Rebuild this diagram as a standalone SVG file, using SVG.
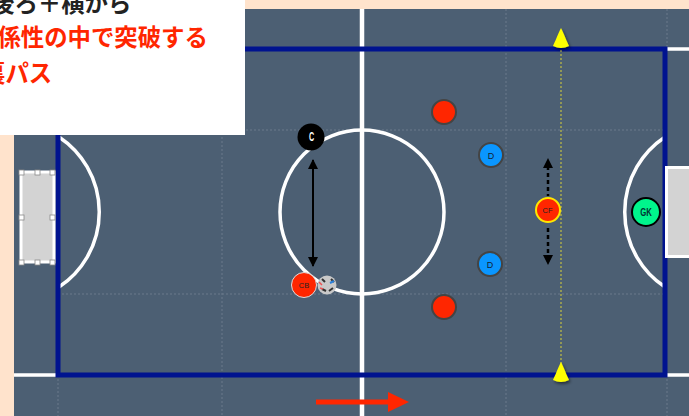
<svg xmlns="http://www.w3.org/2000/svg" width="689" height="416" viewBox="0 0 689 416">
<defs>
<style>
.wl{fill:none;stroke:#fff;stroke-width:3.500}
.grid{fill:none;stroke:#6b7b8c;stroke-width:1;stroke-dasharray:2 2}
.goal{fill:#d3d3d3;stroke:#fff;stroke-width:3}
.h{fill:#fff;stroke:#888;stroke-width:.8}
.lbl{font-family:"Liberation Sans",sans-serif;text-anchor:middle}
.jp{font-family:"Noto Sans CJK JP","Noto Sans",sans-serif;font-weight:700;font-size:23.400px}
</style>
<marker id="ah" markerWidth="12" markerHeight="12" refX="9" refY="5" orient="auto-start-reverse" markerUnits="userSpaceOnUse"><path d="M0 0L10 5L0 10Z" fill="#000"/></marker>
<filter id="sh" x="-50%" y="-50%" width="200%" height="200%"><feDropShadow dx="1.500" dy="2" stdDeviation="1.500" flood-color="#000" flood-opacity=".5"/></filter>
</defs>
<rect width="689" height="416" fill="#ffe3cc"/>
<rect x="14" y="9" width="675" height="407" fill="#4c5f73"/>
<g id="pitch">
<path class="grid" d="M58 375V416M222 9V416M506 9V416M667 9V49M667 375V416M58 130H665M58 294H665"/>
<path class="wl" d="M14 375H58M665 375H689M665 49H689"/>
<path d="M362 9V416" fill="none" stroke="#fff" stroke-width="4.500"/>
<circle class="wl" cx="362" cy="212" r="82"/>
<path class="wl" d="M59 137A90 90 0 0 1 59 287M665 137A90 90 0 0 0 665 287"/>
<rect x="58" y="49" width="607" height="326" fill="none" stroke="#00138f" stroke-width="5"/>
</g>
<g id="goal-left">
<rect class="goal" x="21" y="172" width="33" height="90"/>
<rect class="h" x="19" y="170" width="5" height="5"/><rect class="h" x="35" y="170" width="5" height="5"/><rect class="h" x="50" y="170" width="5" height="5"/>
<rect class="h" x="19" y="215" width="5" height="5"/><rect class="h" x="50" y="215" width="5" height="5"/>
<rect class="h" x="19" y="260" width="5" height="5"/><rect class="h" x="35" y="260" width="5" height="5"/><rect class="h" x="50" y="260" width="5" height="5"/>
</g>
<g id="goal-right"><rect class="goal" x="666.500" y="167.500" width="30" height="89"/></g>
<g id="connectors">
<path d="M561 50V365" fill="none" stroke="#d8d23a" stroke-width="1" stroke-dasharray="2 2"/>
<path d="M313 160V266" fill="none" stroke="#000" stroke-width="2" marker-start="url(#ah)" marker-end="url(#ah)"/>
<path d="M548 166V196M548 228V258" fill="none" stroke="#000" stroke-width="2.500" stroke-dasharray="4 3"/>
<path d="M548 158L553 168H543ZM548 265L543 255H553Z" fill="#000"/>
<path d="M316 402H390" fill="none" stroke="#ff2600" stroke-width="5"/>
<path d="M388 392L409 402L388 412Z" fill="#ff2600"/>
</g>
<g id="cone-top"><path d="M561 28C558 34 555 42 553 46Q561 50 569 46C567 42 564 34 561 28Z" fill="#ff0" filter="url(#sh)"/></g>
<g id="cone-bottom"><path d="M561 362C558 368 555 376 553 380Q561 384 569 380C567 376 564 368 561 362Z" fill="#ff0" filter="url(#sh)"/></g>
<g id="node-c"><circle cx="311" cy="137" r="13.500" fill="#000"/><text class="lbl" transform="translate(311.500 141) scale(.6 1)" font-size="12" font-weight="700" fill="#fff">C</text></g>
<g id="node-cb"><circle cx="304" cy="285" r="12.500" fill="#ff2600" stroke="#ddd" stroke-width="1"/><text class="lbl" x="304" y="288" font-size="7.500" fill="#222">CB</text></g>
<g id="ball"><circle cx="327" cy="285" r="9.500" fill="#c9c9c9"/><path d="M322 279l3 3M331 279l3 3M322 289l4 2M329 291l4-3" stroke="#333" stroke-width="2"/><path d="M319 282l3 3M320 288l3 1" stroke="#e55" stroke-width="1.500"/><path d="M330 283l4-2" stroke="#2a7fd8" stroke-width="2"/></g>
<g id="red-1"><circle cx="444" cy="112" r="12" fill="#ff2600" stroke="#444" stroke-width="2"/></g>
<g id="red-2"><circle cx="444" cy="307" r="12" fill="#ff2600" stroke="#444" stroke-width="2"/></g>
<g id="node-d1"><circle cx="491" cy="155" r="12" fill="#0a96ff" stroke="#444" stroke-width="2"/><text class="lbl" x="491" y="158.500" font-size="9" fill="#123">D</text></g>
<g id="node-d2"><circle cx="490" cy="264" r="12" fill="#0a96ff" stroke="#444" stroke-width="2"/><text class="lbl" x="490" y="267.500" font-size="9" fill="#123">D</text></g>
<g id="node-cf"><circle cx="548" cy="210" r="12" fill="#ff2600" stroke="#ffe600" stroke-width="2"/><text class="lbl" x="547.500" y="213" font-size="7.500" fill="#222">CF</text></g>
<g id="node-gk"><circle cx="646" cy="212" r="14" fill="#00f58c" stroke="#000" stroke-width="2"/><text class="lbl" transform="translate(646 216) scale(.7 1)" font-size="11" font-weight="700" fill="#033">GK</text></g>
<g id="caption">
<rect x="-10" y="-10" width="255" height="145" fill="#fff"/>
<text class="jp" x="-9" y="12" fill="#222">後ろ＋横から</text>
<text class="jp" x="-26" y="46" fill="#ff2600">関係性の中で突破する</text>
<text class="jp" x="-18" y="82" fill="#ff2600">裏パス</text>
</g>
</svg>
